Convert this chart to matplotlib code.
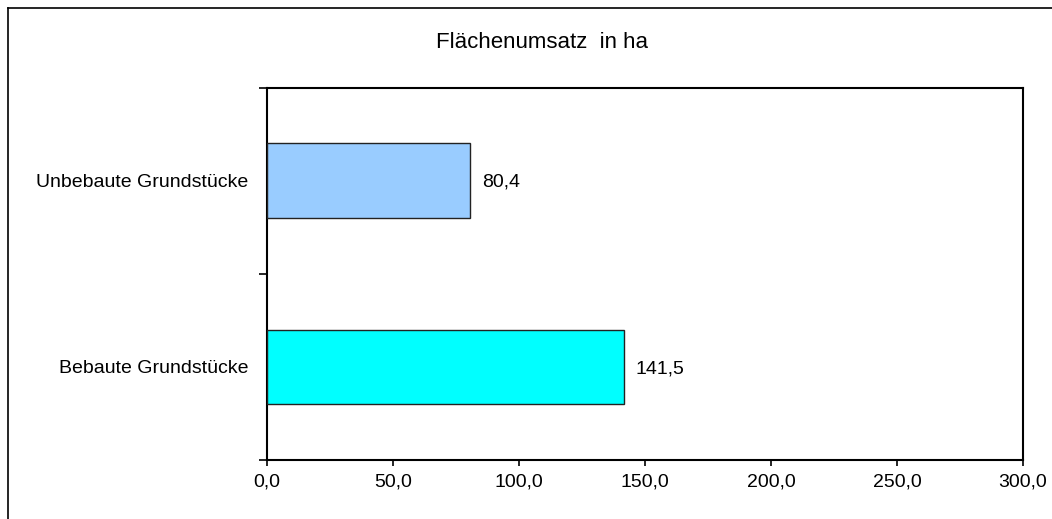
import matplotlib.pyplot as plt
from matplotlib.lines import Line2D

plt.rcParams['font.family'] = ['Liberation Sans', 'DejaVu Sans']

# data
categories = ['Bebaute Grundstücke', 'Unbebaute Grundstücke']
values = [141.5, 80.4]
colors = ['#00FFFF', '#99CCFF']
xticks = [0, 50, 100, 150, 200, 250, 300]

W, H = 1052, 519
fig = plt.figure(figsize=(W / 100, H / 100), dpi=100)
ax = fig.add_axes([267 / W, 1 - 460 / H, (1023 - 267) / W, (460 - 87.5) / H])

ypos = list(range(len(categories)))
bars = ax.barh(ypos, values, height=0.40, color=colors,
               edgecolor='#222222', linewidth=1.0, zorder=3)

for y, v in zip(ypos, values):
    ax.text(v + 4.8, y - 0.01, f'{v:.1f}'.replace('.', ','),
            va='center', ha='left', fontsize=14)

ax.set_xlim(0, 300)
ax.set_ylim(-0.5, 1.5)
ax.set_xticks(xticks)
ax.set_xticklabels([f'{t:.1f}'.replace('.', ',') for t in xticks], fontsize=14)

# category boundaries as major ticks, labels centred via minor ticks
ax.set_yticks([-0.5, 0.5, 1.5])
ax.set_yticklabels([])
ax.set_yticks(ypos, minor=True)
ax.set_yticklabels(categories, minor=True, fontsize=14)
ax.tick_params(axis='y', which='major', length=6, width=1.2, direction='out')
ax.tick_params(axis='y', which='minor', length=0, pad=13.5)
ax.tick_params(axis='x', length=4, width=1.2, direction='out', pad=6)

for s in ax.spines.values():
    s.set_linewidth(1.5)
    s.set_color('black')

fig.text(542 / W, 1 - 43 / H, 'Flächenumsatz  in ha', ha='center', va='center',
         fontsize=16)

# outer chart frame (right and bottom edge are outside the picture)
fig.add_artist(Line2D([8 / W, 8 / W], [1 - 8 / H, -0.1], color='black',
                      linewidth=1.2, transform=fig.transFigure))
fig.add_artist(Line2D([8 / W, 1.1], [1 - 8 / H, 1 - 8 / H], color='black',
                      linewidth=1.2, transform=fig.transFigure))

fig.savefig('out.png', dpi=100)
